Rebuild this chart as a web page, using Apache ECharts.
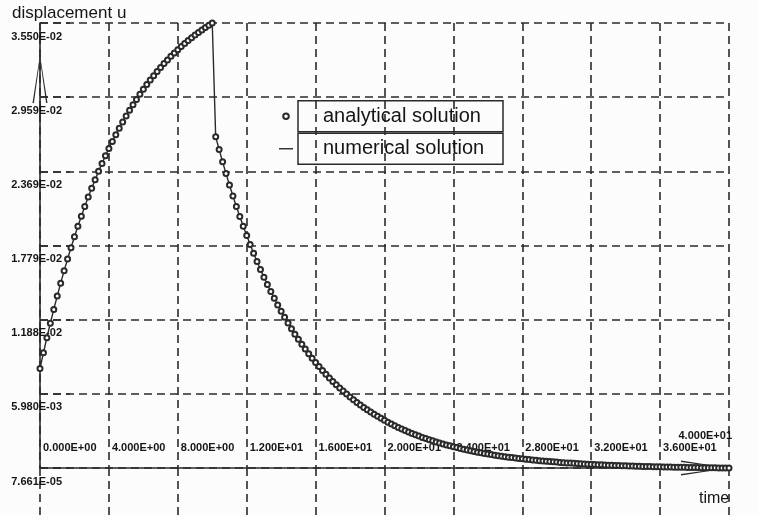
<!DOCTYPE html>
<html>
<head>
<meta charset="utf-8">
<title>displacement u vs time</title>
<script src="https://cdn.jsdelivr.net/npm/echarts@6/dist/echarts.min.js"></script>
<style>
  html, body { margin: 0; padding: 0; background: #fcfcfc; }
  #chart { width: 759px; height: 515px; }
</style>
</head>
<body>
<div id="chart"></div>
<script>
// Time steps (s): 200 steps of 0.2 s
const timeSec = [
  0, 0.2, 0.4, 0.6, 0.8, 1, 1.2, 1.4, 1.6, 1.8,
  2, 2.2, 2.4, 2.6, 2.8, 3, 3.2, 3.4, 3.6, 3.8,
  4, 4.2, 4.4, 4.6, 4.8, 5, 5.2, 5.4, 5.6, 5.8,
  6, 6.2, 6.4, 6.6, 6.8, 7, 7.2, 7.4, 7.6, 7.8,
  8, 8.2, 8.4, 8.6, 8.8, 9, 9.2, 9.4, 9.6, 9.8,
  10, 10.2, 10.4, 10.6, 10.8, 11, 11.2, 11.4, 11.6, 11.8,
  12, 12.2, 12.4, 12.6, 12.8, 13, 13.2, 13.4, 13.6, 13.8,
  14, 14.2, 14.4, 14.6, 14.8, 15, 15.2, 15.4, 15.6, 15.8,
  16, 16.2, 16.4, 16.6, 16.8, 17, 17.2, 17.4, 17.6, 17.8,
  18, 18.2, 18.4, 18.6, 18.8, 19, 19.2, 19.4, 19.6, 19.8,
  20, 20.2, 20.4, 20.6, 20.8, 21, 21.2, 21.4, 21.6, 21.8,
  22, 22.2, 22.4, 22.6, 22.8, 23, 23.2, 23.4, 23.6, 23.8,
  24, 24.2, 24.4, 24.6, 24.8, 25, 25.2, 25.4, 25.6, 25.8,
  26, 26.2, 26.4, 26.6, 26.8, 27, 27.2, 27.4, 27.6, 27.8,
  28, 28.2, 28.4, 28.6, 28.8, 29, 29.2, 29.4, 29.6, 29.8,
  30, 30.2, 30.4, 30.6, 30.8, 31, 31.2, 31.4, 31.6, 31.8,
  32, 32.2, 32.4, 32.6, 32.8, 33, 33.2, 33.4, 33.6, 33.8,
  34, 34.2, 34.4, 34.6, 34.8, 35, 35.2, 35.4, 35.6, 35.8,
  36, 36.2, 36.4, 36.6, 36.8, 37, 37.2, 37.4, 37.6, 37.8,
  38, 38.2, 38.4, 38.6, 38.8, 39, 39.2, 39.4, 39.6, 39.8,
  40
];

// Displacement u at each time step (closed-form solution)
const analyticalU = [
  0.00800, 0.00925, 0.01045, 0.01160, 0.01270, 0.01376, 0.01479, 0.01577, 0.01671, 0.01761,
  0.01848, 0.01932, 0.02012, 0.02089, 0.02164, 0.02235, 0.02303, 0.02369, 0.02432, 0.02493,
  0.02551, 0.02607, 0.02661, 0.02713, 0.02762, 0.02810, 0.02856, 0.02900, 0.02942, 0.02983,
  0.03022, 0.03060, 0.03096, 0.03131, 0.03164, 0.03196, 0.03227, 0.03256, 0.03285, 0.03312,
  0.03338, 0.03363, 0.03387, 0.03411, 0.03433, 0.03454, 0.03475, 0.03495, 0.03514, 0.03532,
  0.03550, 0.02644, 0.02543, 0.02445, 0.02351, 0.02260, 0.02173, 0.02090, 0.02010, 0.01932,
  0.01858, 0.01786, 0.01718, 0.01652, 0.01588, 0.01527, 0.01468, 0.01412, 0.01358, 0.01305,
  0.01255, 0.01207, 0.01161, 0.01116, 0.01073, 0.01032, 0.00992, 0.00954, 0.00917, 0.00882,
  0.00848, 0.00815, 0.00784, 0.00754, 0.00725, 0.00697, 0.00670, 0.00644, 0.00620, 0.00596,
  0.00573, 0.00551, 0.00530, 0.00509, 0.00490, 0.00471, 0.00453, 0.00435, 0.00419, 0.00403,
  0.00387, 0.00372, 0.00358, 0.00344, 0.00331, 0.00318, 0.00306, 0.00294, 0.00283, 0.00272,
  0.00262, 0.00251, 0.00242, 0.00232, 0.00224, 0.00215, 0.00207, 0.00199, 0.00191, 0.00184,
  0.00177, 0.00170, 0.00163, 0.00157, 0.00151, 0.00145, 0.00140, 0.00134, 0.00129, 0.00124,
  0.00119, 0.00115, 0.00110, 0.00106, 0.00102, 0.00098, 0.00094, 0.00091, 0.00087, 0.00084,
  0.00081, 0.00078, 0.00075, 0.00072, 0.00069, 0.00066, 0.00064, 0.00061, 0.00059, 0.00057,
  0.00055, 0.00052, 0.00050, 0.00048, 0.00047, 0.00045, 0.00043, 0.00041, 0.00040, 0.00038,
  0.00037, 0.00035, 0.00034, 0.00033, 0.00031, 0.00030, 0.00029, 0.00028, 0.00027, 0.00026,
  0.00025, 0.00024, 0.00023, 0.00022, 0.00021, 0.00020, 0.00020, 0.00019, 0.00018, 0.00017,
  0.00017, 0.00016, 0.00016, 0.00015, 0.00014, 0.00014, 0.00013, 0.00013, 0.00012, 0.00012,
  0.00011, 0.00011, 0.00010, 0.00010, 0.000097, 0.000093, 0.000090, 0.000086, 0.000083, 0.000080,
  0.0000766
];

// FE results coincide with the closed form at this plotting resolution
const numericalU = analyticalU;

// Axis ticks
const yTickValues = [7.661e-5, 5.980e-3, 1.188e-2, 1.779e-2, 2.369e-2, 2.959e-2, 3.550e-2];
const xTickValues = [0, 4, 8, 12, 16, 20, 24, 28, 32, 36];
const xEndTick = [40];

const seriesNames = ['analytical solution', 'numerical solution'];
const axisTitles = { y: 'displacement u', x: 'time' };

// -------------------------------------------------------------------------
const FONT = "'Liberation Sans', Arial, Helvetica, sans-serif";
const INK = '#2a2a2a';
const TEXT = '#151515';
const DASH = [8, 5];

function sci(v) {
  if (v === 0) return '0.000E+00';
  let e = Math.floor(Math.log10(Math.abs(v)));
  let m = v / Math.pow(10, e);
  if (+m.toFixed(3) >= 10) { m /= 10; e += 1; }
  return m.toFixed(3) + 'E' + (e < 0 ? '-' : '+') + String(Math.abs(e)).padStart(2, '0');
}

function pairs(xs, ys) {
  return xs.map((t, i) => [t, ys[i]]);
}

// open chevron used as axis arrow head
const ARROW = 'path://M7.5 0 L15 48 L13.6 48 L7.5 4 L1.4 48 L0 48 Z';
// short dash used as the legend key of the solid line
const DASH_ICON = 'path://M0 0 H14 V1.4 H0 Z';

const dashedLine = { color: INK, width: 1.6, type: DASH };
const tickFont = { fontFamily: FONT, fontSize: 11, fontWeight: 'bold', color: TEXT };

const chart = echarts.init(document.getElementById('chart'), null, { renderer: 'canvas' });

chart.setOption({
  backgroundColor: '#fcfcfc',
  animation: false,
  textStyle: { fontFamily: FONT },
  title: [
    {
      text: axisTitles.y, left: 12, top: 5, padding: 0,
      textStyle: { fontFamily: FONT, fontSize: 17, fontWeight: 'normal', color: TEXT }
    },
    {
      text: axisTitles.x, left: 699, top: 491, padding: 0,
      textStyle: { fontFamily: FONT, fontSize: 16, fontWeight: 'normal', color: TEXT }
    }
  ],
  legend: {
    orient: 'vertical',
    left: 279,
    top: 100,
    padding: 0,
    itemGap: 0,
    itemWidth: 14,
    itemHeight: 7,
    selectedMode: false,
    data: [
      { name: seriesNames[0] },
      { name: seriesNames[1], icon: DASH_ICON }
    ],
    textStyle: {
      fontFamily: FONT, fontSize: 20, color: TEXT,
      width: 180, height: 31, lineHeight: 31,
      padding: [0, 0, 0, 25],
      borderColor: INK, borderWidth: 1.5
    }
  },
  grid: { left: 40, top: 23, right: 30, bottom: 47, containLabel: false },
  xAxis: [
    {
      type: 'value', min: 0, max: 40, interval: 4, position: 'bottom',
      axisLine: {
        show: true, onZero: false,
        lineStyle: { color: INK, width: 1.6 },
        symbol: ['none', ARROW], symbolSize: [15, 48], symbolOffset: [0, -24]
      },
      axisTick: { show: true, inside: false, length: 47, lineStyle: dashedLine },
      splitLine: { show: true, lineStyle: dashedLine },
      axisLabel: Object.assign({
        customValues: xTickValues,
        formatter: sci,
        align: 'left', verticalAlign: 'bottom', margin: -15,
        padding: [0, 0, 0, 3]
      }, tickFont)
    },
    {
      type: 'value', min: 0, max: 40, position: 'bottom',
      axisLine: { show: false },
      axisTick: { show: false },
      splitLine: { show: false },
      axisLabel: Object.assign({
        customValues: xEndTick,
        formatter: sci,
        align: 'right', verticalAlign: 'bottom', margin: -27,
        padding: [0, -3, 0, 0]
      }, tickFont)
    }
  ],
  yAxis: [
    {
      type: 'value', min: yTickValues[0], max: yTickValues[yTickValues.length - 1],
      position: 'left',
      axisLine: {
        show: true, onZero: false,
        lineStyle: { color: INK, width: 1.6 },
        symbol: ['none', ARROW], symbolSize: [15, 48], symbolOffset: [0, -56]
      },
      axisTick: { show: false, customValues: yTickValues },
      splitLine: { show: true, lineStyle: dashedLine },
      axisLabel: Object.assign({
        customValues: yTickValues,
        formatter: sci,
        align: 'right', verticalAlign: 'top', margin: -22,
        padding: [8, 0, 0, 0]
      }, tickFont)
    },
    {
      type: 'value', min: yTickValues[0], max: yTickValues[yTickValues.length - 1],
      position: 'right',
      axisLine: { show: false },
      axisTick: { show: true, inside: false, length: 30, customValues: yTickValues, lineStyle: dashedLine },
      splitLine: { show: false },
      axisLabel: { show: false }
    }
  ],
  series: [
    {
      name: seriesNames[0],
      type: 'line',
      xAxisIndex: 0, yAxisIndex: 0,
      data: pairs(timeSec, analyticalU),
      symbol: 'emptyCircle',
      symbolSize: 5,
      showAllSymbol: true,
      lineStyle: { width: 0, opacity: 0 },
      itemStyle: { color: INK, borderColor: INK, borderWidth: 1.1 },
      z: 4
    },
    {
      name: seriesNames[1],
      type: 'line',
      xAxisIndex: 0, yAxisIndex: 0,
      data: pairs(timeSec, numericalU),
      symbol: 'none',
      lineStyle: { color: INK, width: 1.4 },
      itemStyle: { color: INK },
      z: 3
    }
  ]
});
</script>
</body>
</html>
